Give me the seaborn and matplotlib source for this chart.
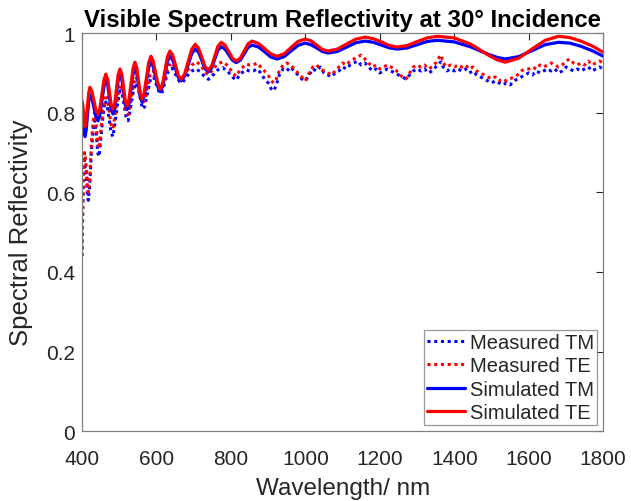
import numpy as np
import pandas as pd
import matplotlib
matplotlib.use("Agg")
import matplotlib.pyplot as plt
import seaborn as sns

# ---- Simulated curves ----
sim_wl = [400, 402, 404, 406, 408, 411, 414.5, 418, 421, 426.5, 432, 437.5, 443,
          448, 453.5, 459, 464, 469, 473.5, 478, 483, 488, 492.5, 497, 502, 507, 511.5,
          516, 521, 526, 531.5, 537, 542, 547, 551.5, 556, 561, 567, 573, 579, 585, 591,
          597.5, 604, 610, 616.5, 623, 629.5, 636, 643.5, 651, 658.5, 666, 675.5, 685,
          694.5, 704, 713, 721.5, 730, 739, 748, 756.5, 765, 774, 784, 794, 804, 814,
          825, 835.5, 846, 857, 874, 890.5, 907, 924, 943, 961.5, 980, 999, 1014.5,
          1030, 1045.5, 1061, 1086, 1111, 1136, 1161, 1182.5, 1204, 1225.5, 1247, 1274,
          1300.5, 1327, 1354, 1400, 1445, 1491, 1515, 1537, 1573, 1608.5, 1644, 1680,
          1710, 1740, 1770, 1800]
sim_te = [0.830, 0.820, 0.800, 0.775, 0.765, 0.779, 0.815, 0.850, 0.864, 0.854, 0.830,
          0.806, 0.796, 0.811, 0.847, 0.883, 0.897, 0.884, 0.853, 0.822, 0.809, 0.824,
          0.860, 0.896, 0.910, 0.896, 0.864, 0.831, 0.817, 0.833, 0.872, 0.911, 0.927,
          0.913, 0.881, 0.848, 0.834, 0.850, 0.888, 0.926, 0.942, 0.930, 0.901, 0.871,
          0.859, 0.873, 0.907, 0.941, 0.955, 0.945, 0.920, 0.894, 0.884, 0.897, 0.928,
          0.959, 0.972, 0.962, 0.940, 0.917, 0.907, 0.917, 0.942, 0.967, 0.977, 0.970,
          0.954, 0.937, 0.930, 0.937, 0.955, 0.973, 0.980, 0.974, 0.961, 0.948, 0.942,
          0.948, 0.964, 0.979, 0.985, 0.981, 0.970, 0.959, 0.955, 0.960, 0.973, 0.985,
          0.990, 0.986, 0.978, 0.969, 0.965, 0.969, 0.979, 0.988, 0.992, 0.988, 0.972,
          0.945, 0.933, 0.927, 0.937, 0.960, 0.982, 0.992, 0.989, 0.980, 0.968, 0.952]
sim_tm = [0.800, 0.790, 0.772, 0.750, 0.740, 0.755, 0.793, 0.830, 0.845, 0.836, 0.813,
          0.789, 0.780, 0.795, 0.831, 0.867, 0.882, 0.870, 0.840, 0.809, 0.797, 0.811,
          0.846, 0.881, 0.895, 0.882, 0.852, 0.821, 0.808, 0.823, 0.860, 0.897, 0.912,
          0.900, 0.870, 0.840, 0.828, 0.843, 0.878, 0.913, 0.928, 0.917, 0.891, 0.864,
          0.853, 0.866, 0.898, 0.929, 0.942, 0.933, 0.911, 0.889, 0.880, 0.892, 0.920,
          0.948, 0.960, 0.952, 0.932, 0.911, 0.903, 0.912, 0.935, 0.957, 0.966, 0.960,
          0.946, 0.932, 0.926, 0.932, 0.948, 0.964, 0.970, 0.965, 0.953, 0.940, 0.935,
          0.941, 0.955, 0.969, 0.975, 0.971, 0.963, 0.954, 0.950, 0.954, 0.965, 0.976,
          0.980, 0.977, 0.970, 0.963, 0.960, 0.963, 0.971, 0.979, 0.982, 0.978, 0.965,
          0.947, 0.939, 0.935, 0.941, 0.956, 0.971, 0.977, 0.975, 0.967, 0.956, 0.942]

# ---- Measured curves ----
meas_wl = [400, 402, 404, 407, 410, 414, 417, 421, 425, 430, 434, 438, 442, 446, 450,
           456, 462, 467, 472, 478, 483, 488, 495, 502, 507, 513, 519, 524, 530, 537,
           544, 550, 556, 562, 568, 576, 584, 592, 600, 608, 614, 622, 632, 642, 652,
           662, 670, 682, 695, 708, 720, 732, 740, 752, 765, 778, 792, 806, 814, 825,
           840, 850,
           860, 870, 880, 890, 900, 908, 915, 922, 930, 940, 950, 960, 970, 980, 990,
           1000, 1010, 1020, 1030, 1040, 1050, 1060, 1070, 1080, 1090, 1100, 1110, 1120,
           1130, 1140, 1150, 1160, 1170, 1180, 1190, 1200, 1210, 1220, 1230, 1240, 1250,
           1260, 1270, 1280, 1290, 1300, 1310, 1320, 1330, 1340, 1350, 1360, 1365, 1370,
           1380, 1390, 1400, 1410, 1420, 1430, 1440, 1450, 1460, 1470, 1480, 1490, 1500,
           1510, 1520, 1530, 1540, 1550, 1560, 1570, 1580, 1590, 1600, 1610, 1620, 1630,
           1640, 1650, 1660, 1670, 1680, 1690, 1700, 1710, 1720, 1730, 1740, 1750, 1760,
           1770, 1780, 1790, 1800]
meas_tm = [0.44, 0.56, 0.64, 0.69, 0.66, 0.60, 0.58, 0.62, 0.70, 0.76, 0.78, 0.75, 0.70,
           0.69, 0.73, 0.79, 0.83, 0.82, 0.79, 0.75, 0.74, 0.77, 0.82, 0.855, 0.85, 0.82,
           0.785, 0.78, 0.81, 0.85, 0.875, 0.865, 0.84, 0.81, 0.815, 0.85, 0.885, 0.89,
           0.87, 0.85, 0.848, 0.875, 0.905, 0.912, 0.895, 0.878, 0.876, 0.892, 0.905,
           0.910, 0.900, 0.888, 0.884, 0.895, 0.908, 0.913, 0.903, 0.888, 0.882, 0.897,
           0.908, 0.905,
           0.905, 0.910, 0.900, 0.885, 0.875, 0.860, 0.855, 0.870, 0.895, 0.910, 0.905,
           0.915, 0.905, 0.895, 0.885, 0.880, 0.895, 0.910, 0.905, 0.915, 0.900, 0.895,
           0.890, 0.900, 0.905, 0.915, 0.910, 0.920, 0.925, 0.930, 0.920, 0.925, 0.915,
           0.905, 0.910, 0.900, 0.905, 0.910, 0.905, 0.900, 0.895, 0.890, 0.885, 0.895,
           0.905, 0.910, 0.905, 0.910, 0.900, 0.905, 0.915, 0.925, 0.928, 0.915, 0.905,
           0.910, 0.905, 0.910, 0.905, 0.910, 0.900, 0.905, 0.895, 0.890, 0.885, 0.880,
           0.875, 0.880, 0.875, 0.870, 0.875, 0.870, 0.880, 0.885, 0.890, 0.895, 0.900,
           0.895, 0.905, 0.900, 0.905, 0.910, 0.905, 0.910, 0.900, 0.905, 0.915, 0.910,
           0.905, 0.910, 0.905, 0.910, 0.915, 0.905, 0.910, 0.915, 0.910]
meas_te = [0.44, 0.57, 0.66, 0.70, 0.68, 0.62, 0.60, 0.64, 0.72, 0.78, 0.80, 0.77, 0.72,
           0.71, 0.75, 0.81, 0.845, 0.84, 0.81, 0.77, 0.76, 0.79, 0.835, 0.87, 0.865,
           0.835, 0.80, 0.795, 0.825, 0.865, 0.89, 0.88, 0.855, 0.825, 0.83, 0.865, 0.90,
           0.905, 0.885, 0.862, 0.858, 0.885, 0.918, 0.925, 0.908, 0.888, 0.886, 0.905,
           0.920, 0.928, 0.918, 0.900, 0.895, 0.910, 0.923, 0.928, 0.918, 0.898, 0.892,
           0.908, 0.922, 0.920,
           0.920, 0.925, 0.915, 0.905, 0.895, 0.880, 0.875, 0.885, 0.905, 0.920, 0.925,
           0.920, 0.910, 0.900, 0.890, 0.880, 0.900, 0.915, 0.920, 0.910, 0.905, 0.900,
           0.895, 0.905, 0.915, 0.925, 0.920, 0.930, 0.935, 0.940, 0.945, 0.935, 0.925,
           0.915, 0.920, 0.910, 0.915, 0.920, 0.915, 0.910, 0.900, 0.890, 0.885, 0.900,
           0.915, 0.920, 0.915, 0.920, 0.910, 0.915, 0.925, 0.940, 0.945, 0.925, 0.915,
           0.920, 0.915, 0.920, 0.915, 0.920, 0.910, 0.915, 0.905, 0.900, 0.895, 0.890,
           0.885, 0.890, 0.880, 0.885, 0.880, 0.885, 0.890, 0.895, 0.905, 0.910, 0.910,
           0.915, 0.910, 0.920, 0.915, 0.920, 0.925, 0.920, 0.915, 0.920, 0.930, 0.935,
           0.925, 0.920, 0.925, 0.920, 0.930, 0.920, 0.925, 0.930, 0.925]

x_ticks = [400, 600, 800, 1000, 1200, 1400, 1600, 1800]
y_ticks = [0, 0.2, 0.4, 0.6, 0.8, 1.0]
y_tick_labels = ["0", "0.2", "0.4", "0.6", "0.8", "1"]

sns.set_style("white")
plt.rcParams["font.family"] = ["Liberation Sans", "DejaVu Sans"]

fig = plt.figure(figsize=(6.31, 5.02), dpi=100)
ax = fig.add_axes([0.130, 0.139, 0.826, 0.793])

meas_df = pd.DataFrame({"wl": meas_wl, "tm": meas_tm, "te": meas_te})
sim_df = pd.DataFrame({"wl": sim_wl, "tm": sim_tm, "te": sim_te})

sns.lineplot(data=meas_df, x="wl", y="tm", ax=ax, color="#0000ff", lw=2.2,
             linestyle=(0, (1, 1.2)), label="Measured TM", estimator=None, sort=False)
sns.lineplot(data=meas_df, x="wl", y="te", ax=ax, color="#ff0000", lw=2.2,
             linestyle=(0, (1, 1.2)), label="Measured TE", estimator=None, sort=False)
sns.lineplot(data=sim_df, x="wl", y="tm", ax=ax, color="#0000ff", lw=2.3,
             label="Simulated TM", estimator=None, sort=False)
sns.lineplot(data=sim_df, x="wl", y="te", ax=ax, color="#ff0000", lw=2.3,
             label="Simulated TE", estimator=None, sort=False)

ax.set_xlim(400, 1800)
ax.set_ylim(0, 1)
ax.set_xticks(x_ticks)
ax.set_yticks(y_ticks)
ax.set_yticklabels(y_tick_labels)
ax.tick_params(direction="in", length=5, width=0.8, top=True, right=True,
               labelsize=15, colors="#262626")
ax.tick_params(axis="x", pad=13)
ax.tick_params(axis="y", pad=5)
for s in ax.spines.values():
    s.set_visible(True)
    s.set_color("#808080")
    s.set_linewidth(0.9)

ax.set_xlabel("Wavelength/ nm", fontsize=17.5, color="#262626", labelpad=6)
ax.set_ylabel("Spectral Reflectivity", fontsize=18.5, color="#262626", labelpad=9)
ax.set_title("Visible Spectrum Reflectivity at 30\u00b0 Incidence", fontsize=17.3,
             fontweight="bold", color="black", pad=5)

leg = ax.legend(loc="lower right", fontsize=14.5, frameon=True, fancybox=False,
                edgecolor="#808080", handlelength=1.9, handletextpad=0.25,
                borderpad=0.15, labelspacing=0.22, borderaxespad=0.3)
leg.get_frame().set_linewidth(0.9)
for t in leg.get_texts():
    t.set_color("#262626")

fig.savefig("out.png", dpi=100)
